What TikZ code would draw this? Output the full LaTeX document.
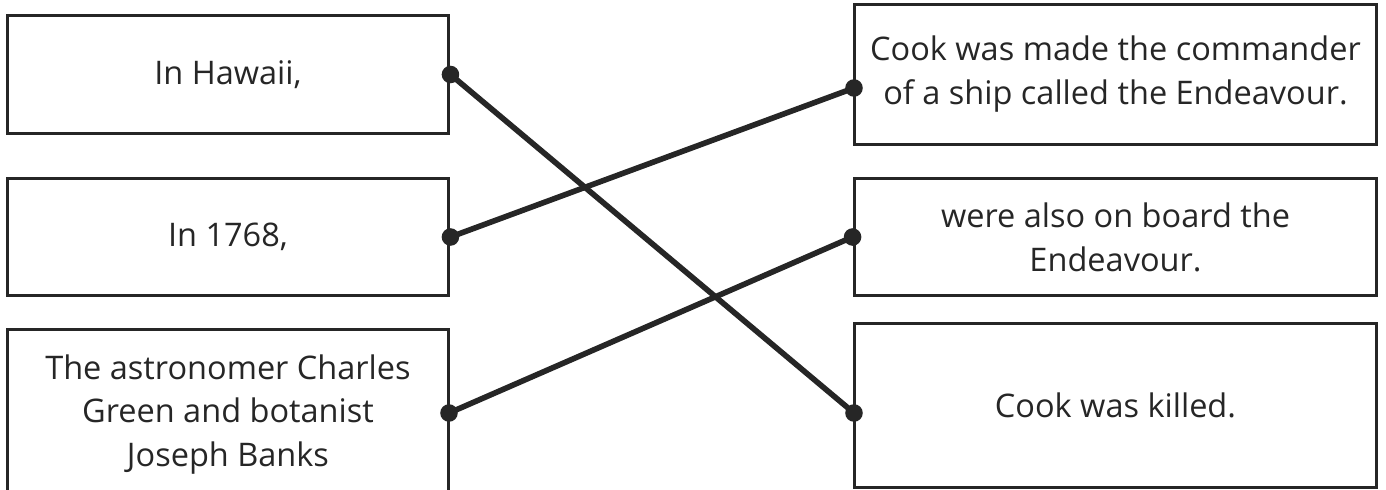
\documentclass[tikz,border=0pt]{standalone}
\usepackage{fontspec}
\setmainfont{Open Sans}
\usetikzlibrary{positioning, calc}

\definecolor{inkgrey}{RGB}{38,38,38}

\begin{document}
\begin{tikzpicture}[
    x=0.02cm, y=-0.02cm,
    font=\fontsize{18.5}{25}\selectfont, text=inkgrey,
    dot/.style={circle, fill=inkgrey, inner sep=0pt, minimum size=10pt}, % Style for the end points
    startbox/.style={draw=inkgrey, line width=1.7pt, rectangle, align=center, minimum width=8.84cm}, % Left column
    endbox/.style={draw=inkgrey, line width=1.7pt, rectangle, align=center, minimum width=10.46cm}, % Right column
    match line/.style={draw=inkgrey, line width=3.2pt} % Style for the matching lines
]

    % === Frame of the page ===
    \clip (0,0) rectangle (1386,490);

    % ====== LEFT COLUMN ======
    \node[startbox, minimum height=2.38cm] (hawaii) at (228,74.5) {In Hawaii,};
    \node[startbox, minimum height=2.36cm] (year) at (228,237) {In 1768,};
    \node[startbox, minimum height=3.42cm] (crew) at (228,414.5) {The astronomer Charles\\Green and botanist\\Joseph Banks};

    % ====== RIGHT COLUMN ======
    \node[endbox, minimum height=2.82cm] (commander) at (1115.5,74.5) {Cook was made the commander\\of a ship called the Endeavour.};
    \node[endbox, minimum height=2.36cm] (aboard) at (1115.5,237) {were also on board the\\Endeavour.};
    \node[endbox, minimum height=3.30cm] (killed) at (1115.5,405.5) {Cook was killed.};

    % === End points ===
    \node[dot] (hawaii_dot) at (hawaii.east) {};
    \node[dot] (year_dot) at (year.east) {};
    \node[dot] (crew_dot) at (449,413) {};
    \node[dot] (commander_dot) at (854,88) {};
    \node[dot] (aboard_dot) at (aboard.west) {};
    \node[dot] (killed_dot) at (854,413) {};

    % ====== MATCHING LINES ======
    \draw[match line] (hawaii_dot.center) -- (killed_dot.center);
    \draw[match line] (year_dot.center) -- (commander_dot.center);
    \draw[match line] (crew_dot.center) -- (aboard_dot.center);

\end{tikzpicture}
\end{document}
